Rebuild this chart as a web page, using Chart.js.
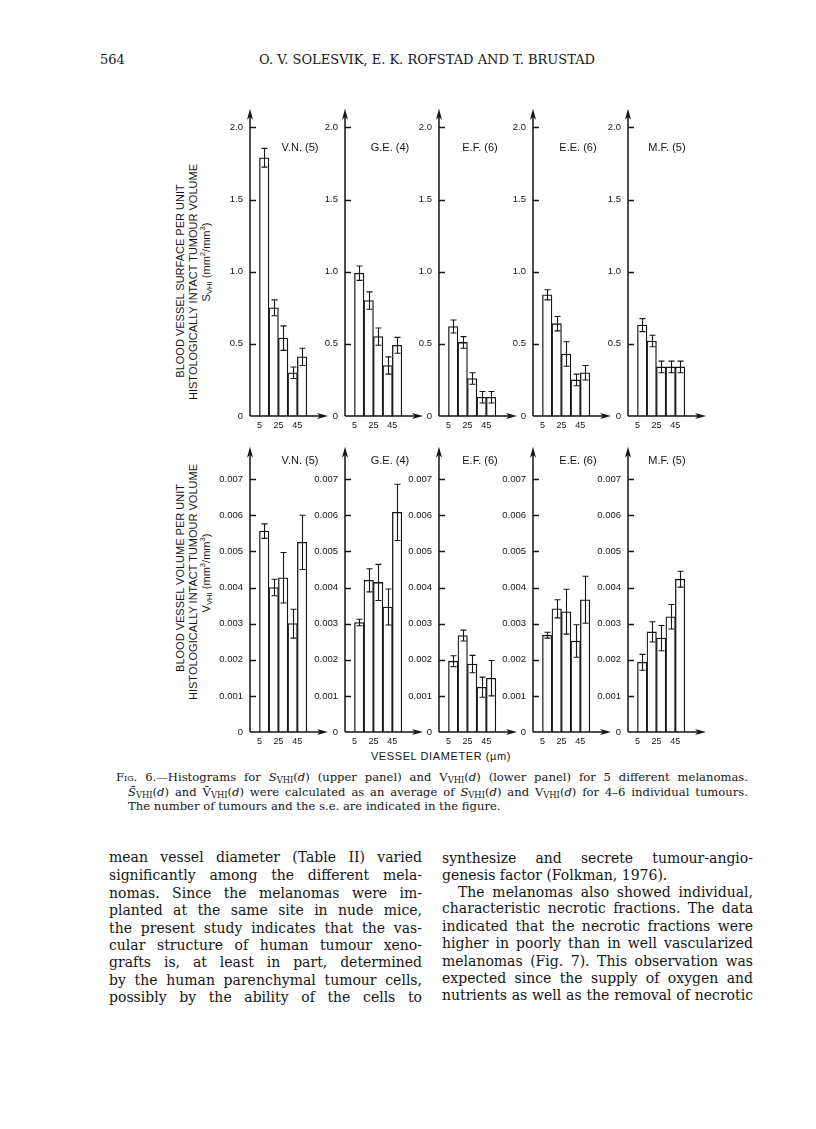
<!DOCTYPE html>
<html lang="en">
<head>
<meta charset="UTF-8">
<title>Fig. 6 - vessel surface and volume histograms</title>
<script src="https://cdn.jsdelivr.net/npm/chart.js"></script>
<style>
    body {
        margin: 0;
        width: 816px;
        height: 1129px;
        position: relative;
        overflow: hidden;
        background: #fff;
        color: #151515;
        font-family: 'DejaVu Serif', serif;
    }

    .abs {
        position: absolute;
        white-space: nowrap;
    }

    .ylab {
        position: absolute;
        width: 300px;
        height: 14px;
        line-height: 14px;
        text-align: center;
        font-family: 'Liberation Sans', Arial, sans-serif;
        font-size: 11px;
        transform: rotate(-90deg);
        white-space: nowrap;
    }

    .ylab sub, .ylab sup { font-size: 0.7em; line-height: 0; }

    .cap {
        position: absolute;
        font-size: 11.6px;
        line-height: 14px;
        height: 14px;
        overflow: visible;
    }

    .body-line {
        position: absolute;
        font-size: 14px;
        line-height: 16px;
        height: 16px;
    }

    .just {
        text-align: justify;
        text-align-last: justify;
    }

    sub { font-size: 0.72em; vertical-align: -0.25em; line-height: 0; }
    .sc { font-variant: small-caps; }
</style>
</head>
<body>

<div class="abs" style="left:100px; top:52px; font-size:13px; line-height:16px;">564</div>
<div class="abs" style="left:233px; top:52px; width:388px; font-size:13px; line-height:16px; text-align:center;">O. V. SOLESVIK, E. K. ROFSTAD AND T. BRUSTAD</div>

<!-- y axis titles -->
<div class="ylab" style="left:30px; top:274px;">BLOOD VESSEL SURFACE PER UNIT</div>
<div class="ylab" style="left:43px; top:275px;">HISTOLOGICALLY INTACT TUMOUR VOLUME</div>
<div class="ylab" style="left:56px; top:255px;">S<sub>VHI</sub> (mm<sup>2</sup>/mm<sup>3</sup>)</div>

<div class="ylab" style="left:30px; top:571px;">BLOOD VESSEL VOLUME PER UNIT</div>
<div class="ylab" style="left:43px; top:575px;">HISTOLOGICALLY INTACT TUMOUR VOLUME</div>
<div class="ylab" style="left:56px; top:566px;">V<sub>VHI</sub> (mm<sup>3</sup>/mm<sup>3</sup>)</div>

<div class="abs" style="left:341px; top:750px; width:200px; text-align:center; font-family:'Liberation Sans', Arial, sans-serif; font-size:11px; letter-spacing:0.6px;">VESSEL DIAMETER (µm)</div>

<!-- caption -->
<div class="cap just" style="left:116px; top:770px; width:632px;">F<span class="sc">ig</span>. 6.—Histograms for <i>S</i><sub>VHI</sub>(<i>d</i>) (upper panel) and V<sub>VHI</sub>(<i>d</i>) (lower panel) for 5 different melanomas.</div>
<div class="cap just" style="left:128px; top:785px; width:620px;"><i>S̄</i><sub>VHI</sub>(<i>d</i>) and V̄<sub>VHI</sub>(<i>d</i>) were calculated as an average of <i>S</i><sub>VHI</sub>(<i>d</i>) and V<sub>VHI</sub>(<i>d</i>) for 4–6 individual tumours.</div>
<div class="cap" style="left:128px; top:799px;">The number of tumours and the s.e. are indicated in the figure.</div>

<!-- body text, left column -->
<div class="body-line just" style="left:109px; top:849px; width:313px;">mean vessel diameter (Table II) varied</div>
<div class="body-line just" style="left:109px; top:867px; width:313px;">significantly among the different mela-</div>
<div class="body-line just" style="left:109px; top:885px; width:313px;">nomas. Since the melanomas were im-</div>
<div class="body-line just" style="left:109px; top:902px; width:313px;">planted at the same site in nude mice,</div>
<div class="body-line just" style="left:109px; top:920px; width:313px;">the present study indicates that the vas-</div>
<div class="body-line just" style="left:109px; top:937px; width:313px;">cular structure of human tumour xeno-</div>
<div class="body-line just" style="left:109px; top:954px; width:313px;">grafts is, at least in part, determined</div>
<div class="body-line just" style="left:109px; top:972px; width:313px;">by the human parenchymal tumour cells,</div>
<div class="body-line just" style="left:109px; top:989px; width:313px;">possibly by the ability of the cells to</div>

<!-- body text, right column -->
<div class="body-line just" style="left:442px; top:850px; width:311px;">synthesize and secrete tumour-angio-</div>
<div class="body-line" style="left:442px; top:867px;">genesis factor (Folkman, 1976).</div>
<div class="body-line just" style="left:458px; top:884px; width:295px;">The melanomas also showed individual,</div>
<div class="body-line just" style="left:442px; top:900px; width:311px;">characteristic necrotic fractions. The data</div>
<div class="body-line just" style="left:442px; top:918px; width:311px;">indicated that the necrotic fractions were</div>
<div class="body-line just" style="left:442px; top:935px; width:311px;">higher in poorly than in well vascularized</div>
<div class="body-line just" style="left:442px; top:953px; width:311px;">melanomas (Fig. 7). This observation was</div>
<div class="body-line just" style="left:442px; top:970px; width:311px;">expected since the supply of oxygen and</div>
<div class="body-line just" style="left:442px; top:987px; width:311px;">nutrients as well as the removal of necrotic</div>

<script>
    // melanoma lines and number of tumours per line
    const melanomas = ['V.N.', 'G.E.', 'E.F.', 'E.E.', 'M.F.'];
    const tumourCounts = [5, 4, 6, 6, 5];

    // vessel diameter bins (um), bin centres, and the labelled diameters
    const binCentres = [10, 20, 30, 40, 50];
    const diameterTicks = [5, 25, 45];

    // upper panel: S_VHI (mm2/mm3), mean and s.e.
    const surfaceTicks = [0, 0.5, 1.0, 1.5, 2.0];
    const surfVN = [1.79, 0.75, 0.54, 0.30, 0.41];
    const surfVNse = [0.065, 0.055, 0.085, 0.04, 0.06];
    const surfGE = [0.99, 0.80, 0.55, 0.35, 0.49];
    const surfGEse = [0.05, 0.06, 0.06, 0.06, 0.055];
    const surfEF = [0.62, 0.51, 0.26, 0.13, 0.13];
    const surfEFse = [0.045, 0.04, 0.04, 0.04, 0.04];
    const surfEE = [0.84, 0.64, 0.43, 0.25, 0.30];
    const surfEEse = [0.035, 0.05, 0.085, 0.04, 0.05];
    const surfMF = [0.63, 0.52, 0.34, 0.34, 0.34];
    const surfMFse = [0.045, 0.04, 0.04, 0.04, 0.04];

    // lower panel: V_VHI (mm3/mm3), mean and s.e.
    const volumeTicks = [0, 0.001, 0.002, 0.003, 0.004, 0.005, 0.006, 0.007];
    const volVN = [0.00556, 0.00400, 0.00427, 0.00300, 0.00525];
    const volVNse = [0.00020, 0.00023, 0.00070, 0.00040, 0.00075];
    const volGE = [0.00303, 0.00420, 0.00414, 0.00346, 0.00608];
    const volGEse = [0.00009, 0.00032, 0.00050, 0.00050, 0.00078];
    const volEF = [0.00196, 0.00267, 0.00188, 0.00124, 0.00149];
    const volEFse = [0.00015, 0.00015, 0.00024, 0.00028, 0.00049];
    const volEE = [0.00268, 0.00341, 0.00333, 0.00252, 0.00366];
    const volEEse = [0.00008, 0.00025, 0.00062, 0.00045, 0.00065];
    const volMF = [0.00193, 0.00277, 0.00260, 0.00319, 0.00423];
    const volMFse = [0.00022, 0.00028, 0.00035, 0.00034, 0.00022];

    const ink = '#151515';
    const SANS = "'Liberation Sans', Arial, sans-serif";

    // layout of the small panels (page pixels)
    const axisLefts = [250, 345, 439, 533, 628];
    const titleDx = [50, 45, 41, 45, 39];
    const Y_AXIS_W = 50, PLOT_W = 72, PAD_RIGHT = 12, PAD_TOP = 8, X_AXIS_H = 16;
    const X_MIN = -5, X_MAX = 71;

    const rows = [
        { areaTop: 105, areaBottom: 416, max: 2.123, ticks: surfaceTicks, dec: 1, titleDy: 38,
          means: [surfVN, surfGE, surfEF, surfEE, surfMF],
          errs: [surfVNse, surfGEse, surfEFse, surfEEse, surfMFse] },
        { areaTop: 443, areaBottom: 732, max: 0.00787, ticks: volumeTicks, dec: 3, titleDy: 13,
          means: [volVN, volGE, volEF, volEE, volMF],
          errs: [volVNse, volGEse, volEFse, volEEse, volMFse] }
    ];

    // axes with arrow heads, inward tick marks, s.e. bars and panel name
    const panelExtras = {
        id: 'panelExtras',
        afterDatasetsDraw(chart, args, opts) {
            const { ctx, chartArea: a, scales: { x, y } } = chart;
            ctx.save();
            ctx.strokeStyle = ink;
            ctx.fillStyle = ink;

            // error bars
            ctx.lineWidth = 1.1;
            chart.data.datasets[0].data.forEach((p, i) => {
                const cx = Math.round(x.getPixelForValue(p.x)) + 0.5;
                const yt = y.getPixelForValue(p.y + opts.errors[i]);
                const yb = y.getPixelForValue(p.y - opts.errors[i]);
                ctx.beginPath();
                ctx.moveTo(cx, yt); ctx.lineTo(cx, yb);
                ctx.moveTo(cx - 3, yt); ctx.lineTo(cx + 3, yt);
                ctx.moveTo(cx - 3, yb); ctx.lineTo(cx + 3, yb);
                ctx.stroke();
            });

            // axis lines
            ctx.lineWidth = 1.5;
            ctx.beginPath();
            ctx.moveTo(a.left, a.bottom); ctx.lineTo(a.left, a.top + 4);
            ctx.moveTo(a.left, a.bottom); ctx.lineTo(a.right, a.bottom);
            opts.ticks.forEach(v => {
                if (v === 0) return;
                const ty = Math.round(y.getPixelForValue(v)) + 0.5;
                ctx.moveTo(a.left, ty); ctx.lineTo(a.left + 6, ty);
            });
            ctx.stroke();

            // arrow heads
            ctx.beginPath();
            ctx.moveTo(a.left, a.top - 1);
            ctx.lineTo(a.left - 3, a.top + 10);
            ctx.lineTo(a.left, a.top + 7);
            ctx.lineTo(a.left + 3, a.top + 10);
            ctx.closePath();
            ctx.fill();
            ctx.beginPath();
            ctx.moveTo(a.right + 6, a.bottom);
            ctx.lineTo(a.right - 5, a.bottom - 3);
            ctx.lineTo(a.right - 2, a.bottom);
            ctx.lineTo(a.right - 5, a.bottom + 3);
            ctx.closePath();
            ctx.fill();

            // melanoma name and number of tumours
            ctx.font = '11px ' + SANS;
            ctx.textAlign = 'center';
            ctx.textBaseline = 'middle';
            ctx.fillText(opts.title, a.left + opts.titleDx, a.top + opts.titleDy);
            ctx.restore();
        }
    };

    function addCanvas(left, top, w, h) {
        const c = document.createElement('canvas');
        c.width = w;
        c.height = h;
        c.style.cssText = `position:absolute;left:${left}px;top:${top}px;width:${w}px;height:${h}px;`;
        document.body.appendChild(c);
        return c;
    }

    function drawPanel(row, i) {
        const h = PAD_TOP + (row.areaBottom - row.areaTop) + X_AXIS_H;
        const canvas = addCanvas(axisLefts[i] - Y_AXIS_W, row.areaTop - PAD_TOP,
                                 Y_AXIS_W + PLOT_W + PAD_RIGHT, h);
        new Chart(canvas, {
            type: 'bar',
            data: {
                datasets: [{
                    data: binCentres.map((d, k) => ({ x: d, y: row.means[i][k] })),
                    backgroundColor: '#ffffff',
                    borderColor: ink,
                    borderWidth: 1.3,
                    borderSkipped: 'bottom',
                    barPercentage: 1,
                    categoryPercentage: 1
                }]
            },
            options: {
                responsive: false,
                animation: false,
                events: [],
                layout: { padding: { top: PAD_TOP, right: PAD_RIGHT, left: 0, bottom: 0 } },
                plugins: {
                    legend: { display: false },
                    tooltip: { enabled: false },
                    panelExtras: {
                        errors: row.errs[i],
                        ticks: row.ticks,
                        title: `${melanomas[i]} (${tumourCounts[i]})`,
                        titleDx: titleDx[i],
                        titleDy: row.titleDy
                    }
                },
                scales: {
                    x: {
                        type: 'linear',
                        min: X_MIN,
                        max: X_MAX,
                        offset: false,
                        grid: { display: false, drawTicks: false, offset: false },
                        border: { display: false },
                        afterBuildTicks: s => { s.ticks = diameterTicks.map(v => ({ value: v })); },
                        afterFit: s => { s.height = X_AXIS_H; },
                        ticks: {
                            autoSkip: false, maxRotation: 0, padding: 4, color: ink,
                            font: { family: SANS, size: 9 },
                            callback: v => String(v)
                        }
                    },
                    y: {
                        min: 0,
                        max: row.max,
                        grid: { display: false, drawTicks: false },
                        border: { display: false },
                        afterBuildTicks: s => { s.ticks = row.ticks.map(v => ({ value: v })); },
                        afterFit: s => { s.width = Y_AXIS_W; },
                        ticks: {
                            padding: 7, color: ink,
                            font: { family: SANS, size: 9.5 },
                            callback: v => v === 0 ? '0' : v.toFixed(row.dec)
                        }
                    }
                }
            },
            plugins: [panelExtras]
        });
    }

    rows.forEach(row => melanomas.forEach((m, i) => drawPanel(row, i)));
</script>
</body>
</html>
